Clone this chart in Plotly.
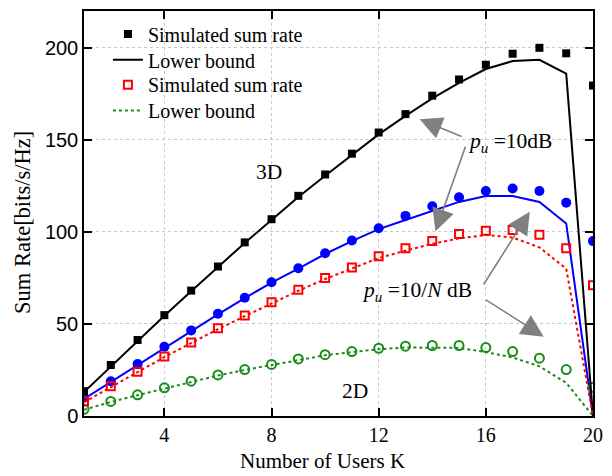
import plotly.graph_objects as go

K = list(range(1, 21))
sim_3d_10 = [13.5, 27.7, 41.3, 54.8, 68.1, 81.2, 94.3, 106.9, 119.6, 131.2, 142.5, 154.0, 164.0, 174.0, 182.8, 190.8, 196.8, 200.0, 197.0, 179.5]
lb_3d_10 = [13.0, 27.0, 41.0, 54.5, 67.8, 81.0, 94.0, 106.5, 119.0, 130.5, 142.0, 153.0, 163.0, 172.5, 181.0, 188.5, 192.8, 193.5, 186.0, 0.0]
sim_3d_10N = [10.0, 18.9, 28.2, 37.6, 46.5, 55.5, 64.2, 72.7, 80.3, 88.4, 95.3, 102.0, 108.7, 113.9, 118.8, 122.2, 123.6, 122.2, 115.9, 95.0]
lb_3d_10N = [9.3, 18.5, 27.8, 37.2, 46.2, 55.2, 64.0, 72.5, 80.0, 88.0, 95.0, 101.5, 106.5, 111.4, 116.3, 119.5, 119.5, 116.3, 104.6, 0.0]
sim_2d_10 = [7.9, 16.2, 24.1, 32.3, 39.9, 47.6, 54.6, 61.8, 68.6, 75.0, 80.7, 86.8, 91.1, 95.0, 98.8, 100.6, 101.0, 98.5, 91.1, 71.0]
lb_2d_10 = [7.5, 15.8, 23.8, 32.0, 39.6, 47.2, 54.2, 61.3, 68.0, 74.4, 80.0, 85.8, 89.8, 93.5, 96.5, 98.3, 97.0, 91.6, 80.0, 0.0]
sim_2d_10N = [3.6, 7.9, 11.5, 15.3, 18.9, 22.3, 25.2, 28.0, 31.0, 33.3, 35.0, 36.8, 37.9, 38.3, 38.3, 37.2, 35.0, 31.4, 25.2, 15.6]
lb_2d_10N = [3.4, 7.6, 11.3, 15.0, 18.6, 22.0, 25.0, 27.8, 30.6, 33.0, 34.7, 36.3, 37.2, 37.3, 37.0, 34.7, 31.8, 27.0, 18.0, 0.0]

x_ticks = [4, 8, 12, 16, 20]
y_ticks = [0, 50, 100, 150, 200]

SERIF = "Liberation Serif"
SANS = "Liberation Sans"
GREEN = "#1a8c1a"

fig = go.Figure()
fig.add_trace(go.Scatter(x=K, y=lb_3d_10N, mode="lines", line=dict(color="blue", width=2), showlegend=False))
fig.add_trace(go.Scatter(x=K, y=sim_3d_10N, mode="markers", marker=dict(symbol="circle", size=10, color="blue"), showlegend=False))
fig.add_trace(go.Scatter(x=K, y=sim_2d_10N, mode="markers",
                         marker=dict(symbol="circle-open", size=9, color=GREEN, line=dict(width=2, color=GREEN)), showlegend=False))
fig.add_trace(go.Scatter(x=K, y=sim_3d_10, mode="markers", name="Simulated sum rate", legend="legend",
                         marker=dict(symbol="square", size=8, color="black")))
fig.add_trace(go.Scatter(x=K, y=lb_3d_10, mode="lines", name="Lower bound", legend="legend2",
                         line=dict(color="black", width=2)))
fig.add_trace(go.Scatter(x=K, y=sim_2d_10, mode="markers", name="Simulated sum rate", legend="legend3",
                         marker=dict(symbol="square-open", size=8, color="red", line=dict(width=2, color="red"))))
fig.add_trace(go.Scatter(x=K, y=lb_2d_10N, mode="lines", name="Lower bound", legend="legend4",
                         line=dict(color=GREEN, width=2, dash="dot")))
fig.add_trace(go.Scatter(x=K, y=lb_2d_10, mode="lines", line=dict(color="red", width=2, dash="dot"), showlegend=False))

axis_common = dict(showline=True, linecolor="black", linewidth=1.5, mirror="ticks",
                   ticks="inside", ticklen=8, tickwidth=1.5, tickcolor="black",
                   showgrid=True, gridcolor="#c8c8c8", griddash="dot", gridwidth=1, zeroline=False)

fig.update_xaxes(range=[1, 20], tickvals=x_ticks, ticktext=[str(v) for v in x_ticks],
                 tickfont=dict(family=SERIF, size=20, color="black"), **axis_common)
fig.update_yaxes(range=[0, 220], tickvals=y_ticks, ticktext=[str(v) for v in y_ticks],
                 tickfont=dict(family=SANS, size=20, color="black"), **axis_common)

ARROW = "#808080"
arrows = [
    (15.15, 151.5, 13.53, 161.2),
    (15.26, 147.2, 14.12, 100.3),
    (15.88, 70.6, 17.64, 111.0),
    (15.95, 63.6, 18.16, 43.1),
]
annotations = []
for (tx, ty, hx, hy) in arrows:
    annotations.append(dict(x=hx, y=hy, ax=tx, ay=ty, xref="x", yref="y", axref="x", ayref="y",
                            text="", showarrow=True, arrowhead=2, arrowsize=2.8, arrowwidth=1.6,
                            arrowcolor=ARROW))
texts = [
    (16.92, 148.8, "<i>p</i><sub><i>u</i></sub> =10dB"),
    (13.44, 67.4, "<i>p</i><sub><i>u</i></sub> =10/<i>N</i> dB"),
    (7.92, 132.6, "3D"),
    (11.11, 13.5, "2D"),
]
for (x, y, t) in texts:
    annotations.append(dict(x=x, y=y, xref="x", yref="y", text=t, showarrow=False,
                            xanchor="center", yanchor="middle",
                            font=dict(family=SERIF, size=21.5, color="black")))
# axis titles
annotations.append(dict(x=0.469, y=-0.111, xref="paper", yref="paper", text="Number of Users K",
                        xanchor="center", yanchor="middle",
                        showarrow=False, font=dict(family=SERIF, size=21, color="black")))
annotations.append(dict(x=-0.1195, y=0.477, xref="paper", yref="paper", text="Sum Rate[bits/s/Hz]",
                        xanchor="center", yanchor="middle",
                        textangle=-90, showarrow=False, font=dict(family=SERIF, size=22.5, color="black")))

def leg(y):
    return dict(x=0.047, y=y, xanchor="left", yanchor="middle", bgcolor="rgba(0,0,0,0)",
                font=dict(family=SERIF, size=20, color="black"))

fig.update_layout(
    width=612, height=476,
    margin=dict(l=84, r=10, t=9, b=60),
    paper_bgcolor="white", plot_bgcolor="white",
    showlegend=True,
    legend=leg(0.9435), legend2=leg(0.8796), legend3=leg(0.8182), legend4=leg(0.7543),
    annotations=annotations,
)

fig.write_html("out.html")
